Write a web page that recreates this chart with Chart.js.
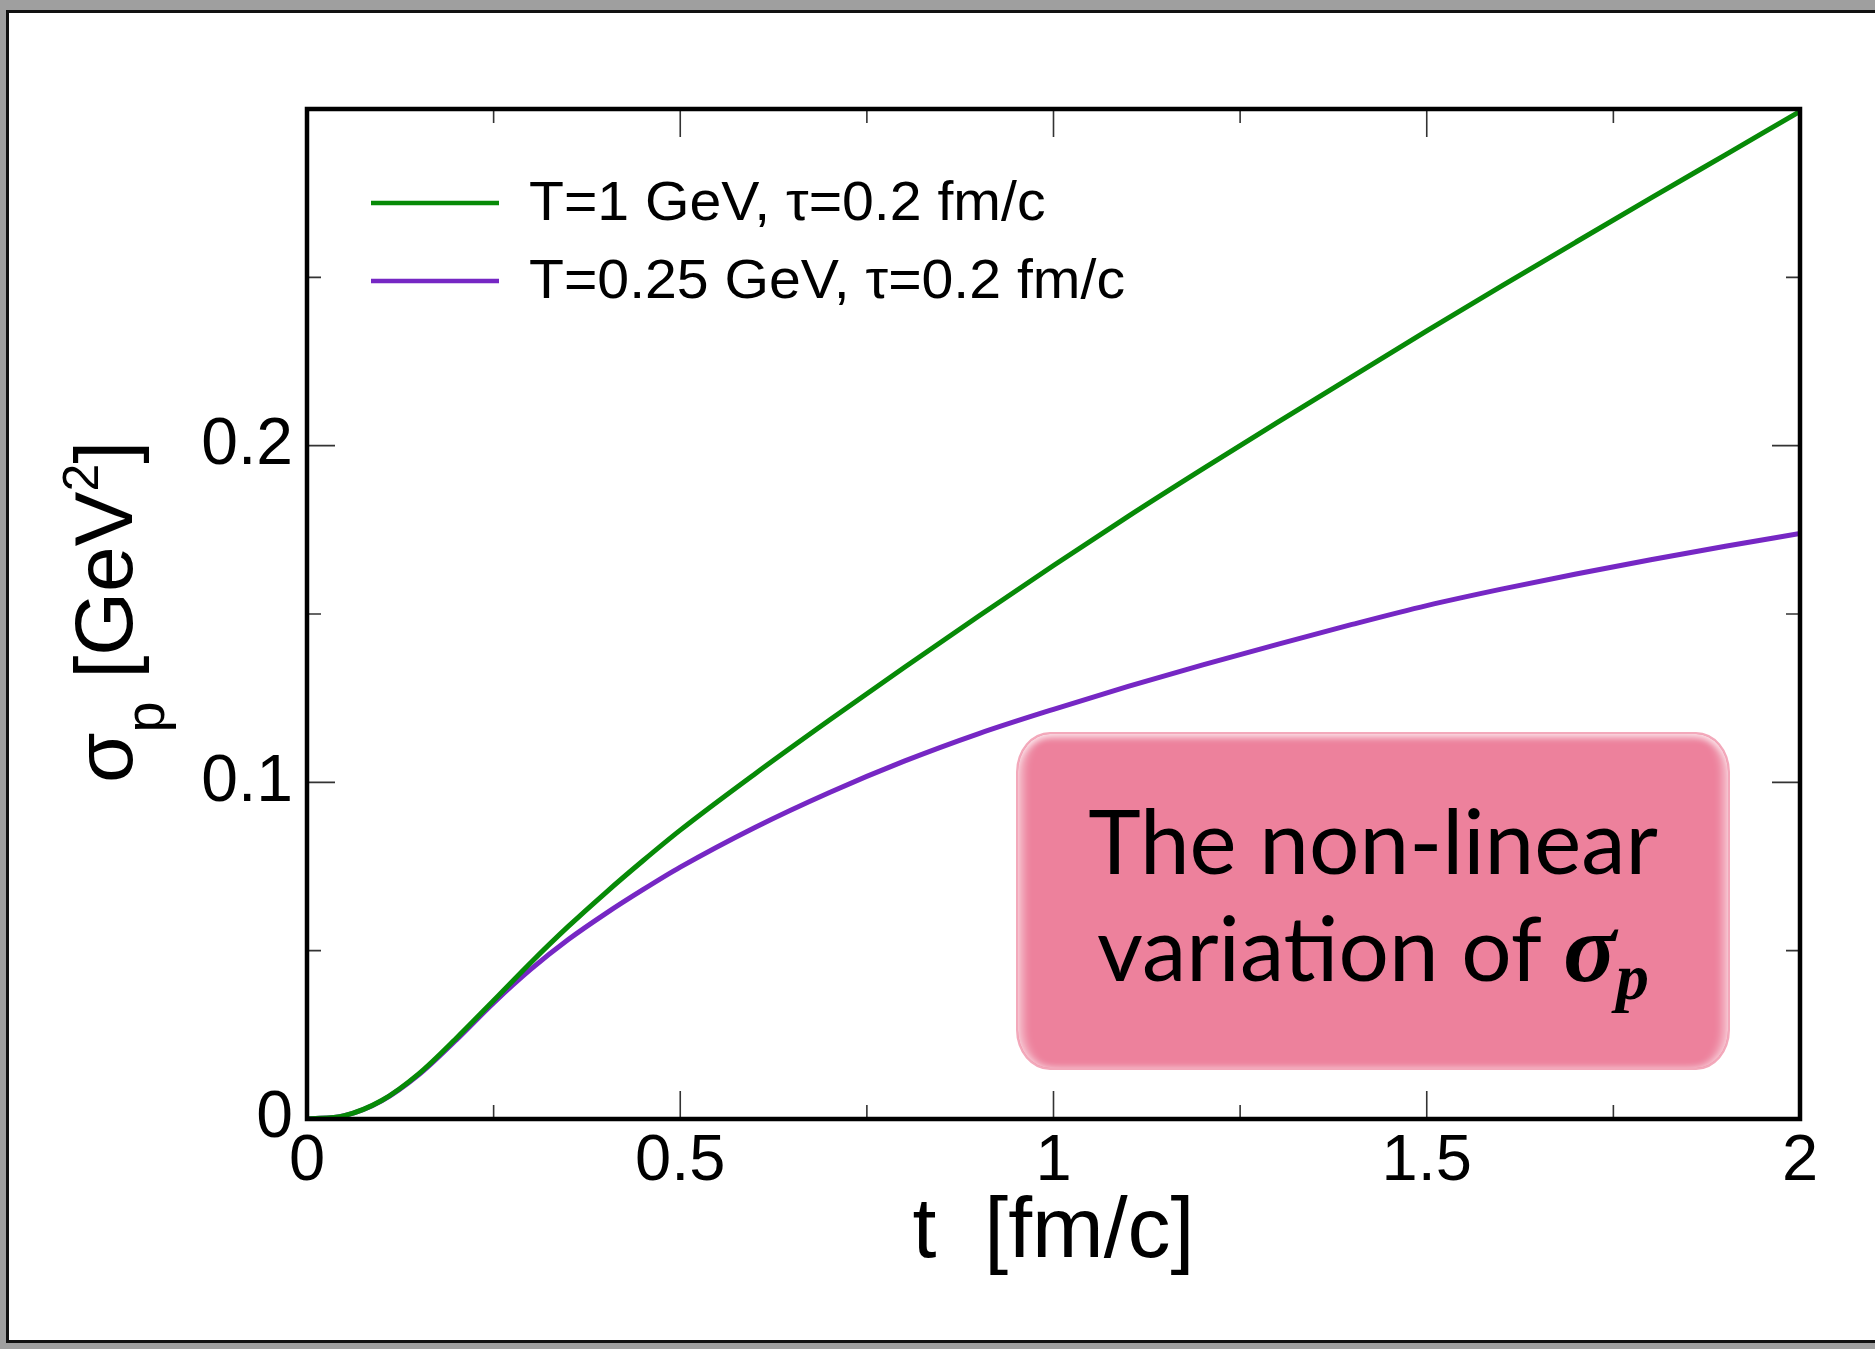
<!DOCTYPE html>
<html>
<head>
<meta charset="utf-8">
<script src="https://cdn.jsdelivr.net/npm/chart.js@4.4.1/dist/chart.umd.min.js"></script>
<style>
  html, body { margin: 0; padding: 0; }
  body { width: 1875px; height: 1349px; background: #9f9f9f; position: relative; overflow: hidden; }
  #frame { position: absolute; left: 6px; top: 10px; width: 1900px; height: 1333px;
           background: #fff; border: 3px solid #111; box-sizing: border-box; }
  #wrap { position: absolute; left: 0; top: 0; width: 1875px; height: 1349px; }
  #note { position: absolute; left: 1016px; top: 732px; width: 714px; height: 338px;
          box-sizing: border-box; border-radius: 34px / 40px; background: #ed819c;
          border: 2px solid #f3a9bb;
          box-shadow: inset 0 7px 6px -3px rgba(255,255,255,0.65),
                      inset 10px 0 10px -5px rgba(255,255,255,0.55),
                      inset -10px 0 10px -5px rgba(255,255,255,0.55),
                      inset 0 -5px 6px -3px rgba(255,255,255,0.3);
          font-family: Lato, "Open Sans", sans-serif; font-size: 89px; line-height: 107px;
          color: #000; text-align: center; padding-top: 52px; }
  #note .m { font-family: "Liberation Serif", "DejaVu Serif", serif; font-weight: bold; font-style: italic; font-size: 98px; }
  #note .m sub { font-size: 66px; vertical-align: -0.28em; }
</style>
</head>
<body>
<div id="frame"></div>
<div id="wrap"><canvas id="chart"></canvas></div>
<div id="note">The non-linear<br>variation of <span class="m">σ<sub>p</sub></span></div>
<script>
"use strict";
// t [fm/c]
const T_VALUES = [0, 0.05, 0.1, 0.15, 0.2, 0.25, 0.3, 0.35, 0.4, 0.45, 0.5, 0.6, 0.7, 0.8, 0.9,
                  1.0, 1.1, 1.2, 1.3, 1.4, 1.5, 1.6, 1.7, 1.8, 1.9, 2.0];
// sigma_p [GeV^2]
const SIGMA_T1 = [0, 0.001, 0.0055, 0.0135, 0.024, 0.0352, 0.0465, 0.0572, 0.0672, 0.0767, 0.0858,
                  0.1025, 0.1185, 0.1341, 0.1494, 0.1644, 0.179, 0.1931, 0.2069, 0.2205, 0.2341,
                  0.2474, 0.2605, 0.2735, 0.2864, 0.2993];
const SIGMA_T025 = [0, 0.001, 0.0054, 0.0132, 0.0235, 0.0345, 0.0445, 0.0533, 0.061, 0.0681, 0.0748,
                    0.0866, 0.097, 0.1063, 0.1145, 0.1217, 0.1285, 0.1349, 0.141, 0.1469, 0.1525,
                    0.1574, 0.1619, 0.1661, 0.1701, 0.1739];
const LABELS = ["T=1 GeV, \u03c4=0.2 fm/c", "T=0.25 GeV, \u03c4=0.2 fm/c"];
const COLORS = ["#078a07", "#7627c4"];

const X_MAX = 2, X_MAJOR = 0.5, X_MINOR = 0.25;
const Y_MAX = 0.3, Y_MAJOR = 0.1, Y_MINOR = 0.05;

const FONT = "'Liberation Sans', Arial, Helvetica, sans-serif";

function points(ys) {
  return T_VALUES.map((t, i) => ({ x: t, y: ys[i] }));
}

// inward ticks on all four sides + thick box
const frameTicks = {
  id: "frameTicks",
  afterDatasetsDraw(chart) {
    const { ctx, chartArea: a, scales: { x, y } } = chart;
    ctx.save();
    ctx.strokeStyle = "#333";
    ctx.lineWidth = 1.6;
    ctx.beginPath();
    const nx = Math.round(X_MAX / X_MINOR);
    for (let i = 1; i < nx; i++) {
      const v = i * X_MINOR;
      const len = Math.abs(v / X_MAJOR - Math.round(v / X_MAJOR)) < 1e-6 ? 28 : 14;
      const px = x.getPixelForValue(v);
      ctx.moveTo(px, a.bottom); ctx.lineTo(px, a.bottom - len);
      ctx.moveTo(px, a.top); ctx.lineTo(px, a.top + len);
    }
    const ny = Math.round(Y_MAX / Y_MINOR);
    for (let i = 1; i < ny; i++) {
      const v = i * Y_MINOR;
      const len = Math.abs(v / Y_MAJOR - Math.round(v / Y_MAJOR)) < 1e-6 ? 28 : 14;
      const py = y.getPixelForValue(v);
      ctx.moveTo(a.left, py); ctx.lineTo(a.left + len, py);
      ctx.moveTo(a.right, py); ctx.lineTo(a.right - len, py);
    }
    ctx.stroke();
    ctx.strokeStyle = "#000";
    ctx.lineWidth = 4.5;
    ctx.strokeRect(a.left, a.top, a.right - a.left, a.bottom - a.top);
    ctx.restore();
  },
  afterDraw(chart) {
    const { ctx, chartArea: a } = chart;
    ctx.save();
    // legend inside the plot
    chart.data.datasets.forEach((ds, i) => {
      const yy = 203 + i * 78;
      ctx.strokeStyle = ds.borderColor;
      ctx.lineWidth = 4.5;
      ctx.beginPath();
      ctx.moveTo(371, yy); ctx.lineTo(499, yy);
      ctx.stroke();
      ctx.save();
      ctx.fillStyle = "#000";
      ctx.font = "55px " + FONT;
      ctx.textBaseline = "middle";
      ctx.textAlign = "left";
      ctx.translate(529, yy + 2);
      ctx.scale(1.04, 1);
      ctx.fillText(ds.label, 0, 0);
      ctx.restore();
    });

    // x title
    ctx.fillStyle = "#000";
    ctx.textBaseline = "alphabetic";
    ctx.textAlign = "center";
    ctx.font = "86px " + FONT;
    ctx.fillText("t  [fm/c]", (a.left + a.right) / 2, 1257);

    // y title with sub/superscripts
    const parts = [
      { t: "\u03c3", s: 82, d: 0 },
      { t: "p", s: 56, d: 32 },
      { t: " [GeV", s: 82, d: 0 },
      { t: "2", s: 50, d: -34 },
      { t: "]", s: 82, d: 0 },
    ];
    let total = 0;
    parts.forEach(p => { ctx.font = p.s + "px " + FONT; p.w = ctx.measureText(p.t).width; total += p.w; });
    ctx.translate(132, 612);
    ctx.rotate(-Math.PI / 2);
    ctx.textAlign = "left";
    let cx = -total / 2;
    parts.forEach(p => {
      ctx.font = p.s + "px " + FONT;
      ctx.fillText(p.t, cx, p.d);
      cx += p.w;
    });
    ctx.restore();
  },
};

new Chart(document.getElementById("chart"), {
  type: "line",
  data: {
    datasets: [
      { label: LABELS[0], data: points(SIGMA_T1), borderColor: COLORS[0] },
      { label: LABELS[1], data: points(SIGMA_T025), borderColor: COLORS[1] },
    ],
  },
  options: {
    responsive: true,
    maintainAspectRatio: false,
    animation: false,
    layout: { padding: { top: 109, right: 75, left: 0, bottom: 0 } },
    elements: {
      point: { radius: 0 },
      line: { borderWidth: 5, cubicInterpolationMode: "monotone", fill: false },
    },
    plugins: { legend: { display: false }, tooltip: { enabled: false } },
    scales: {
      x: {
        type: "linear",
        min: 0,
        max: X_MAX,
        grid: { display: false },
        border: { display: false },
        afterFit: s => { s.height = 230; },
        ticks: {
          stepSize: X_MAJOR,
          padding: -4,
          color: "#000",
          font: { family: FONT, size: 65 },
          callback: v => String(Math.round(v * 100) / 100),
        },
      },
      y: {
        type: "linear",
        min: 0,
        max: Y_MAX,
        grid: { display: false },
        border: { display: false },
        afterFit: s => { s.width = 307; },
        ticks: {
          stepSize: Y_MAJOR,
          padding: 6,
          color: "#000",
          font: { family: FONT, size: 66 },
          callback: v => (Math.round(v * 10) >= 3 ? "" : String(Math.round(v * 10) / 10)),
        },
      },
    },
  },
  plugins: [frameTicks],
});
</script>
</body>
</html>
